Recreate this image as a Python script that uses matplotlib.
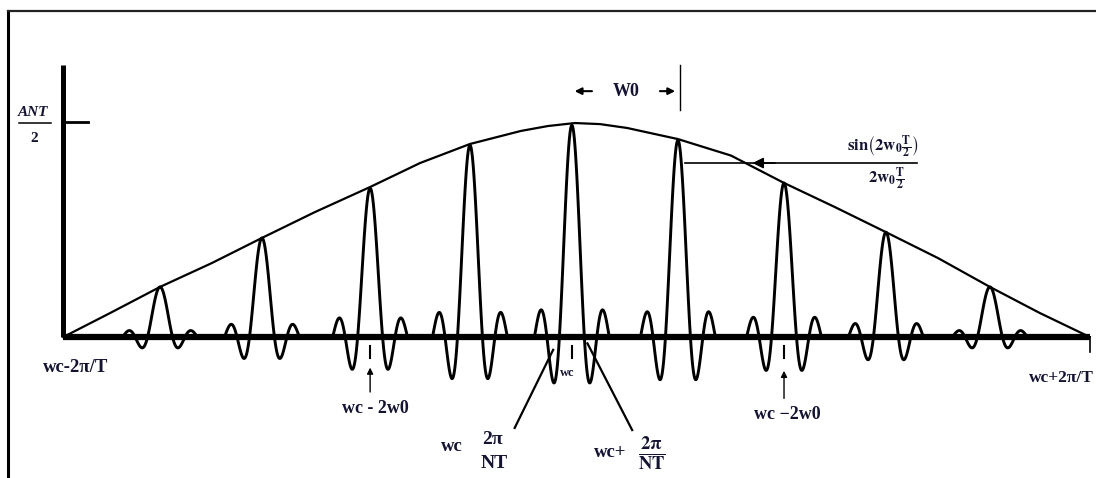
import numpy as np
import matplotlib
matplotlib.use("Agg")
import matplotlib.pyplot as plt
from matplotlib.lines import Line2D

plt.rcParams['font.family'] = ['Liberation Serif', 'DejaVu Serif']
plt.rcParams['mathtext.fontset'] = 'stix'

# pulse centres (units of w0 from wc) and peak heights (units of ANT/2)
pulse_pos = [-3.99, -3.01, -1.97, -1.01, -0.03, 0.99, 2.01, 2.99, 3.99]
pulse_amp = [0.234, 0.463, 0.696, 0.897, 0.99, 0.92, 0.72, 0.49, 0.234]

# envelope
env_x = [-4.92, -4.47, -3.99, -3.49, -3.01, -2.50, -1.97, -1.49, -1.01,
         -0.52, -0.26, 0.0, 0.24, 0.50, 0.99, 1.50, 2.01, 2.50, 2.99,
         3.49, 3.99, 4.47, 4.95]
env_y = [0.0, 0.112, 0.234, 0.346, 0.463, 0.584, 0.701, 0.813, 0.902,
         0.963, 0.986, 1.0, 0.995, 0.977, 0.925, 0.848, 0.720, 0.607, 0.490,
         0.369, 0.234, 0.112, 0.0]

lobe = 0.12          # main-lobe half width of each pulse
ink = '#141432'

fig = plt.figure(figsize=(10.96, 4.78), dpi=100)
ax = fig.add_axes([0, 0, 1, 1])
ax.set_xlim(-5.529, 5.010)
ax.set_ylim(-0.659, 1.575)
ax.axis('off')

# frame
fig.add_artist(Line2D([0.0073, 0.0073], [0, 0.977], color='black', lw=2.2))
fig.add_artist(Line2D([0.0073, 1], [0.977, 0.977], color='#222222', lw=1.6))

# pulses
for c, h in zip(pulse_pos, pulse_amp):
    u = np.linspace(-3 * lobe, 3 * lobe, 121)
    ax.plot(c + u, h * np.sinc(u / lobe), color='black', lw=2.1,
            solid_joinstyle='round')

# envelope
ax.plot(env_x, env_y, color='black', lw=1.6)

# axes
ax.plot([-4.92, 4.95], [0, 0], color='black', lw=4.5, solid_capstyle='butt')
ax.plot([-4.92, -4.92], [0, 1.271], color='black', lw=3.6, solid_capstyle='butt')
ax.plot([-4.92, -4.68], [1.005, 1.005], color='black', lw=2)
ax.plot([4.95, 4.95], [0, -0.07], color='black', lw=1.2)

# small marks under the axis
for xm in [-1.97, -0.03, 2.01]:
    ax.plot([xm, xm], [-0.04, -0.10], color='black', lw=1.5)

# labels on the axis
tkw = dict(fontweight='bold', color=ink, ha='center', va='center')
ax.text(-4.80, -0.143, 'wc-2π/T', fontsize=13.5, **tkw)
ax.text(4.37, -0.19, 'wc+2π/T', fontsize=12.5, fontweight='bold', color=ink,
        ha='left', va='center')
ax.text(-0.07, -0.17, 'wc', fontsize=9, **tkw)

ax.annotate('', xy=(-1.97, -0.13), xytext=(-1.97, -0.27),
            arrowprops=dict(arrowstyle='-|>', color='black', lw=1,
                            mutation_scale=9))
ax.text(-1.92, -0.335, 'wc - 2w0', fontsize=13, **tkw)
ax.annotate('', xy=(2.01, -0.145), xytext=(2.01, -0.30),
            arrowprops=dict(arrowstyle='-|>', color='black', lw=1,
                            mutation_scale=9))
ax.text(2.04, -0.36, 'wc \u22122w0', fontsize=13, **tkw)

# wc +/- 2pi/NT pointers
ax.plot([-0.58, -0.21], [-0.425, -0.06], color='black', lw=1.6)
ax.plot([0.55, 0.12], [-0.435, -0.03], color='black', lw=1.6)
ax.text(-1.18, -0.51, 'wc', fontsize=13.5, **tkw)
ax.text(-0.79, -0.48, '2π', fontsize=14, **tkw)
ax.text(-0.78, -0.59, 'NT', fontsize=14, **tkw)
ax.text(0.34, -0.54, 'wc+', fontsize=13.5, **tkw)
ax.text(0.74, -0.545, r'$\mathbf{\frac{2\pi}{NT}}$', fontsize=19, color=ink,
        ha='center', va='center')

# w0 spacing marker
ax.annotate('', xy=(-0.03, 1.149), xytext=(0.19, 1.149),
            arrowprops=dict(arrowstyle='-|>', color='black', lw=1.5,
                            mutation_scale=10))
ax.annotate('', xy=(0.99, 1.149), xytext=(0.79, 1.149),
            arrowprops=dict(arrowstyle='-|>', color='black', lw=1.5,
                            mutation_scale=10))
ax.plot([1.01, 1.01], [1.271, 1.061], color='black', lw=1)
ax.text(0.49, 1.149, 'W0', fontsize=13, **tkw)

# ANT/2
ax.text(-5.21, 1.05, 'ANT', fontsize=11, fontstyle='italic', **tkw)
ax.plot([-5.35, -5.04], [1.0, 1.0], color='black', lw=1.1)
ax.text(-5.20, 0.93, '2', fontsize=11, **tkw)

# envelope label with pointer
ax.plot([1.06, 3.29], [0.813, 0.813], color='black', lw=1.2)
ax.annotate('', xy=(1.68, 0.813), xytext=(1.95, 0.813),
            arrowprops=dict(arrowstyle='-|>', color='black', lw=1.2,
                            mutation_scale=16))
ax.text(2.96, 0.89, r'$\mathbf{sin\left(2w_0\frac{T}{2}\right)}$',
        fontsize=12, color=ink, ha='center', va='center')
ax.text(3.00, 0.735, r'$\mathbf{2w_0\frac{T}{2}}$', fontsize=12, color=ink,
        ha='center', va='center')

fig.savefig('out.png', dpi=100)
